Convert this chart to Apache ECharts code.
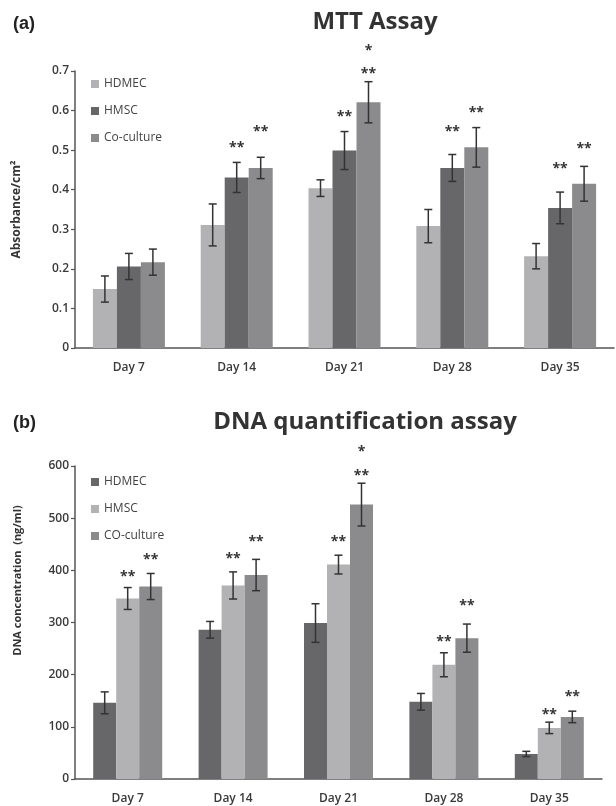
<!DOCTYPE html>
<html>
<head>
<meta charset="utf-8">
<script src="https://cdn.jsdelivr.net/npm/echarts@6/dist/echarts.min.js"></script>
<style>
  html, body { margin: 0; padding: 0; background: #fff; }
  #chartA { width: 616px; height: 395px; }
  #chartB { width: 616px; height: 411px; }
</style>
</head>
<body>
<div id="chartA"></div>
<div id="chartB"></div>
<script>
// categories
const days = ['Day 7', 'Day 14', 'Day 21', 'Day 28', 'Day 35']

// (a) MTT assay
const mttTicks = [0, 0.1, 0.2, 0.3, 0.4, 0.5, 0.6, 0.7]
const mttHdmec = [0.149, 0.311, 0.404, 0.308, 0.232]
const mttHdmecErr = [0.033, 0.053, 0.021, 0.042, 0.032]
const mttHmsc = [0.206, 0.431, 0.499, 0.455, 0.354]
const mttHmscErr = [0.033, 0.038, 0.048, 0.034, 0.040]
const mttCo = [0.217, 0.455, 0.621, 0.507, 0.415]
const mttCoErr = [0.033, 0.027, 0.052, 0.050, 0.044]
// significance marks: [day, bar, level, text]
const mttStars = [
    [1, 1, 0.515, '**'], [1, 2, 0.556, '**'],
    [2, 1, 0.594, '**'], [2, 2, 0.703, '**'], [2, 2, 0.761, '*'],
    [3, 1, 0.556, '**'], [3, 2, 0.604, '**'],
    [4, 1, 0.462, '**'], [4, 2, 0.513, '**']
]

// (b) DNA quantification
const dnaTicks = [0, 100, 200, 300, 400, 500, 600]
const dnaHdmec = [146, 286, 299, 148, 48]
const dnaHdmecErr = [21, 16, 37, 16, 5]
const dnaHmsc = [346, 371, 411, 219, 98]
const dnaHmscErr = [21, 26, 18, 23, 11]
const dnaCo = [369, 391, 526, 270, 119]
const dnaCoErr = [25, 30, 41, 27, 11]
const dnaStars = [
    [0, 1, 395, '**'], [0, 2, 427, '**'],
    [1, 1, 429, '**'], [1, 2, 462, '**'],
    [2, 1, 462, '**'], [2, 2, 588, '**'], [2, 2, 634, '*'],
    [3, 1, 271, '**'], [3, 2, 339, '**'],
    [4, 1, 130, '**'], [4, 2, 165, '**']
]

const LIGHT = '#b2b2b4'
const DARK = '#67676a'
const MID = '#8b8b8e'
const FONT = '"Open Sans", sans-serif'

function makeChart(dom, cfg) {
    const chart = echarts.init(dom)
    const barW = cfg.barWidth

    const errData = []
    cfg.groups.forEach((g, b) => {
        g.values.forEach((v, c) => errData.push([c, b, v, g.err[c]]))
    })
    const starData = cfg.stars.map(s => [s[0], s[1], s[2]])

    const option = {
        animation: false,
        textStyle: { fontFamily: FONT },
        graphic: [
            { type: 'text', left: 13, top: cfg.tagTop,
              style: { text: cfg.tag, font: 'bold 18px "Liberation Sans", Arial', fill: '#222' } },
            { type: 'text', x: cfg.titleX, y: cfg.titleY,
              style: { text: cfg.title, font: 'bold 24px ' + FONT, fill: '#333',
                       align: 'center', verticalAlign: 'middle' } }
        ],
        legend: {
            orient: 'vertical', left: 86, top: cfg.legendTop,
            icon: 'rect', itemWidth: 8, itemHeight: 8, itemGap: 15,
            textStyle: { fontSize: 12, color: '#444', fontFamily: FONT },
            data: cfg.groups.map(g => g.name)
        },
        grid: { left: 75, right: cfg.gridRight, top: 71, bottom: cfg.gridBottom },
        xAxis: {
            type: 'category', data: days,
            axisLine: { lineStyle: { color: '#555', width: 1.5 } },
            axisTick: { length: 4, lineStyle: { color: '#555', width: 1.2 } },
            axisLabel: { fontSize: 12, fontWeight: 600, color: '#3a3a3a', margin: 14, fontFamily: FONT }
        },
        yAxis: {
            type: 'value',
            min: cfg.ticks[0], max: cfg.ticks[cfg.ticks.length - 1],
            interval: cfg.ticks[1] - cfg.ticks[0],
            name: cfg.yName, nameLocation: 'middle', nameGap: cfg.nameGap, nameRotate: 90,
            nameTextStyle: { fontSize: cfg.nameSize, fontWeight: 'bold', color: '#333',
                             fontFamily: FONT, padding: cfg.namePad },
            splitLine: { show: false },
            axisLine: { show: true, lineStyle: { color: '#555', width: 1.5 } },
            axisTick: { show: true, length: 4, lineStyle: { color: '#555', width: 1.2 } },
            axisLabel: { fontSize: 12, fontWeight: 600, color: '#3a3a3a', margin: 6, fontFamily: FONT }
        },
        series: cfg.groups.map(g => ({
            name: g.name, type: 'bar', data: g.values,
            barWidth: barW, barGap: '0%',
            itemStyle: { color: g.color }
        })).concat([
            {
                type: 'custom', data: errData, encode: { x: 0, y: 2 }, z: 5,
                renderItem: (params, api) => {
                    const c = api.value(0), b = api.value(1), v = api.value(2), e = api.value(3)
                    const hi = api.coord([c, v + e])
                    const lo = api.coord([c, v - e])
                    const x = hi[0] + (b - 1) * barW
                    const st = { stroke: '#333', lineWidth: 1.5 }
                    return {
                        type: 'group',
                        children: [
                            { type: 'line', shape: { x1: x, y1: hi[1], x2: x, y2: lo[1] }, style: st },
                            { type: 'line', shape: { x1: x - 4, y1: hi[1], x2: x + 4, y2: hi[1] }, style: st },
                            { type: 'line', shape: { x1: x - 4, y1: lo[1], x2: x + 4, y2: lo[1] }, style: st }
                        ]
                    }
                }
            },
            {
                type: 'custom', data: starData, encode: { x: 0, y: 2 }, z: 5,
                renderItem: (params, api) => {
                    const c = api.value(0), b = api.value(1), v = api.value(2)
                    const p = api.coord([c, v])
                    return {
                        type: 'text',
                        x: p[0] + (b - 1) * barW, y: p[1] + 4,
                        style: { text: cfg.stars[params.dataIndex][3], font: 'bold 14px ' + FONT,
                                 fill: '#333', align: 'center', verticalAlign: 'middle' }
                    }
                }
            }
        ])
    }
    chart.setOption(option)
    return chart
}

makeChart(document.getElementById('chartA'), {
    tag: '(a)', tagTop: 15, title: 'MTT Assay', titleX: 375, titleY: 22,
    legendTop: 73, gridRight: 2, gridBottom: 47, barWidth: 24,
    ticks: mttTicks, yName: 'Absorbance/cm²', nameGap: 52, nameSize: 12, namePad: 0,
    stars: mttStars,
    groups: [
        { name: 'HDMEC', values: mttHdmec, err: mttHdmecErr, color: LIGHT },
        { name: 'HMSC', values: mttHmsc, err: mttHmscErr, color: DARK },
        { name: 'Co-culture', values: mttCo, err: mttCoErr, color: MID }
    ]
})

makeChart(document.getElementById('chartB'), {
    tag: '(b)', tagTop: 19, title: 'DNA quantification assay', titleX: 365, titleY: 27,
    legendTop: 76, gridRight: 14, gridBottom: 27, barWidth: 23,
    ticks: dnaTicks, yName: 'DNA concentration  (ng/ml)', nameGap: 52, nameSize: 11, namePad: [0, 0, 0, 84],
    stars: dnaStars,
    groups: [
        { name: 'HDMEC', values: dnaHdmec, err: dnaHdmecErr, color: DARK },
        { name: 'HMSC', values: dnaHmsc, err: dnaHmscErr, color: LIGHT },
        { name: 'CO-culture', values: dnaCo, err: dnaCoErr, color: MID }
    ]
})
</script>
</body>
</html>
